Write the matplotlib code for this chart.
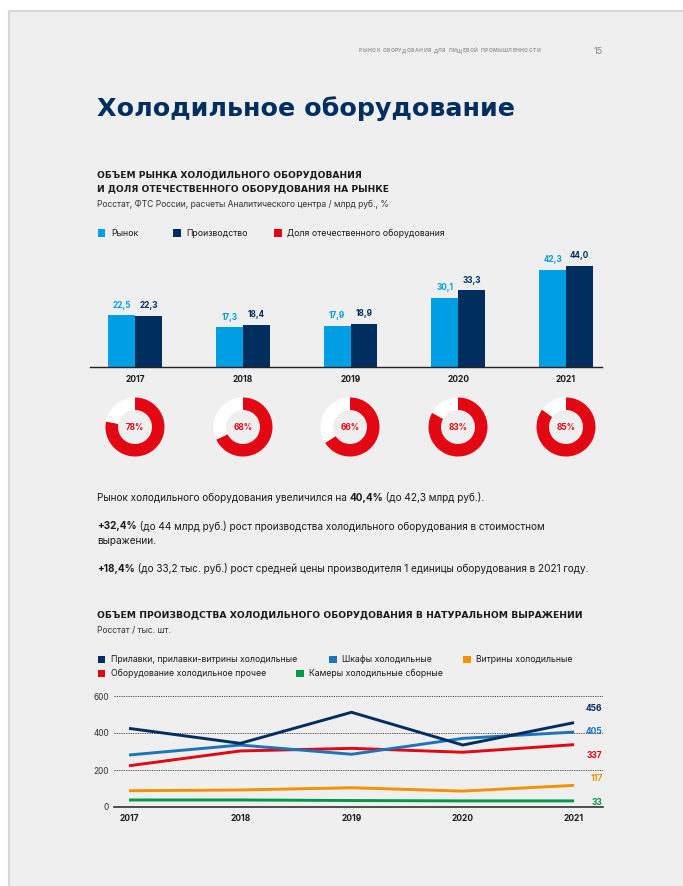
import matplotlib
matplotlib.use("Agg")
import matplotlib.pyplot as plt
from matplotlib.patches import Rectangle
from matplotlib.lines import Line2D
import numpy as np

# ---------------- data ----------------
years = ["2017", "2018", "2019", "2020", "2021"]
market = [22.5, 17.3, 17.9, 30.1, 42.3]
production = [22.3, 18.4, 18.9, 33.3, 44.0]
domestic_share = [78, 68, 66, 83, 85]

line_labels = ["Прилавки, прилавки-витрины холодильные", "Шкафы холодильные",
               "Витрины холодильные", "Оборудование холодильное прочее",
               "Камеры холодильные сборные"]
counters = [425, 344, 512, 335, 456]
cabinets = [281, 335, 285, 371, 405]
showcases = [88, 92, 104, 86, 117]
other_eq = [223, 303, 317, 296, 337]
chambers = [38, 38, 35, 33, 33]
y_ticks = [0, 200, 400, 600]

# ---------------- style ----------------
W, H = 683, 886
DPI = 100
NAVY = "#002f5f"
LBLUE = "#009fe3"
RED = "#e30613"
BLUE = "#1b75bb"
ORANGE = "#f39200"
GREEN = "#009a44"
TXT = "#1a1a1a"
BODY = ["Inter", "DejaVu Sans"]
HEAD = ["DejaVu Sans"]

fig = plt.figure(figsize=(W / DPI, H / DPI), dpi=DPI, facecolor="white")


def fx(x):
    return x / W


def fy(y):
    return 1 - y / H


fig.patches.append(Rectangle((fx(8.5), 0), 1, fy(10.5), transform=fig.transFigure,
                             facecolor="#efefef", edgecolor="none", zorder=-10))
fig.lines.append(Line2D([fx(8.5), fx(8.5)], [0, fy(10.5)], transform=fig.transFigure,
                        color="#d8d8d8", lw=1.5))
fig.lines.append(Line2D([fx(8.5), 1], [fy(10.5), fy(10.5)], transform=fig.transFigure,
                        color="#d8d8d8", lw=1.5))


def axes_px(l, t, r, b):
    return fig.add_axes([fx(l), fy(b), (r - l) / W, (b - t) / H])


def text_px(x, y, s, **kw):
    kw.setdefault("va", "center")
    kw.setdefault("family", BODY)
    return fig.text(fx(x), fy(y), s, **kw)


renderer = fig.canvas.get_renderer()


def runs_px(x, y, runs, size=7.2, color=TXT, family=None):
    fam = family or BODY
    for s, w in runs:
        t = fig.text(fx(x), fy(y), s, fontsize=size, fontweight=w, color=color,
                     family=fam, va="center", ha="left")
        bb = t.get_window_extent(renderer)
        x += bb.width


# ---------------- header ----------------
header = "РЫНОК ОБОРУДОВАНИЯ ДЛЯ ПИЩЕВОЙ ПРОМЫШЛЕННОСТИ"
objs = []
for ch in header:
    objs.append(text_px(0, 52.5, ch, fontsize=3.6, color="#9a9a9a", fontweight="bold",
                        va="baseline"))
widths = [o.get_window_extent(renderer).width if o.get_text() != " " else 2.0 for o in objs]
gap = (181 - sum(widths)) / (len(objs) - 1)
hx = 359
for o, w in zip(objs, widths):
    o.set_x(fx(hx))
    hx += w + gap
text_px(603, 51, "15", fontsize=6.5, color="#8a8a8a", ha="right")

text_px(97, 109, "Холодильное оборудование", fontsize=18.3, fontweight="bold",
        color=NAVY, family=HEAD)

# ---------------- chart 1 titles ----------------
text_px(97, 175, "ОБЪЕМ РЫНКА ХОЛОДИЛЬНОГО ОБОРУДОВАНИЯ", fontsize=6.6,
        fontweight="bold", color=TXT, family=HEAD)
text_px(97, 189, "И ДОЛЯ ОТЕЧЕСТВЕННОГО ОБОРУДОВАНИЯ НА РЫНКЕ", fontsize=6.6,
        fontweight="bold", color=TXT, family=HEAD)
text_px(97, 204, "Росстат, ФТС России, расчеты Аналитического центра / млрд руб., %",
        fontsize=6.15, color="#333333")

leg1 = [(98, "Рынок", LBLUE), (173, "Производство", NAVY),
        (274, "Доля отечественного оборудования", RED)]
for x, s, c in leg1:
    fig.patches.append(Rectangle((fx(x), fy(237)), 7.5 / W, 7.5 / H,
                                 transform=fig.transFigure, facecolor=c, lw=0))
    text_px(x + 13, 233, s, fontsize=6.3, color=TXT)

# ---------------- bar chart ----------------
ax = axes_px(90, 250, 602, 367)
ax.set_facecolor("none")
xs = np.arange(len(years))
bw = 0.25
ax.bar(xs - bw / 2, market, bw, color=LBLUE, lw=0)
ax.bar(xs + bw / 2, production, bw, color=NAVY, lw=0)
for i in range(len(years)):
    ax.annotate(f"{market[i]:.1f}".replace(".", ","), (xs[i] - bw / 2, market[i]),
                xytext=(0, 4), textcoords="offset points", ha="center", va="bottom",
                fontsize=5.9, fontweight="bold", color=LBLUE, family=BODY)
    ax.annotate(f"{production[i]:.1f}".replace(".", ","), (xs[i] + bw / 2, production[i]),
                xytext=(0, 4), textcoords="offset points", ha="center", va="bottom",
                fontsize=5.9, fontweight="bold", color=NAVY, family=BODY)
ax.set_xlim(-0.4176, 4.334)
ax.set_ylim(0, 117 / 2.3)
for s in ["top", "right", "left"]:
    ax.spines[s].set_visible(False)
ax.spines["bottom"].set_color("#222222")
ax.spines["bottom"].set_linewidth(1.0)
ax.set_yticks([])
ax.set_xticks(xs)
ax.set_xticklabels(years, fontsize=6.1, fontweight="bold", family=BODY, color=TXT)
ax.tick_params(axis="x", length=0, pad=5.5)

# ---------------- donuts ----------------
centers = [135, 243, 350, 458, 566]
R = 29.5
for cx, p in zip(centers, domestic_share):
    dax = axes_px(cx - R, 427 - R, cx + R, 427 + R)
    dax.pie([p, 100 - p], colors=[RED, "white"], startangle=90, counterclock=False,
            wedgeprops=dict(width=12.5 / R, linewidth=0), radius=1.0)
    dax.set_xlim(-1, 1)
    dax.set_ylim(-1, 1)
    dax.set_aspect("equal")
    dax.axis("off")
    dax.text(0, 0, f"{p}%", ha="center", va="center", fontsize=5.9,
             fontweight="bold", color=RED, family=BODY)

# ---------------- paragraphs ----------------
runs_px(97, 498, [("Рынок холодильного оборудования увеличился на ", "normal"),
                  ("40,4%", "bold"), (" (до 42,3 млрд руб.).", "normal")])
runs_px(97, 526, [("+32,4%", "bold"),
                  (" (до 44 млрд руб.) рост производства холодильного оборудования в стоимостном", "normal")])
runs_px(97, 541, [("выражении.", "normal")])
runs_px(97, 569, [("+18,4%", "bold"),
                  (" (до 33,2 тыс. руб.) рост средней цены производителя 1 единицы оборудования в 2021 году.", "normal")])

# ---------------- chart 2 titles ----------------
text_px(97, 615, "ОБЪЕМ ПРОИЗВОДСТВА ХОЛОДИЛЬНОГО ОБОРУДОВАНИЯ В НАТУРАЛЬНОМ ВЫРАЖЕНИИ",
        fontsize=6.65, fontweight="bold", color=TXT, family=HEAD)
text_px(97, 630, "Росстат / тыс. шт.", fontsize=6.15, color="#333333")

colors2 = [NAVY, BLUE, ORANGE, RED, GREEN]
leg2_pos = [(98, 659), (329, 659), (463, 659), (98, 673), (296, 673)]
for (x, y), s, c in zip(leg2_pos, line_labels, colors2):
    fig.patches.append(Rectangle((fx(x), fy(y + 4)), 7.5 / W, 7.5 / H,
                                 transform=fig.transFigure, facecolor=c, lw=0))
    text_px(x + 13, y, s, fontsize=6.25, color=TXT)

# ---------------- line chart ----------------
lax = axes_px(114, 696, 603, 807)
lax.set_facecolor("none")
draw_order = [chambers, showcases, other_eq, cabinets, counters]
draw_cols = [GREEN, ORANGE, RED, BLUE, NAVY]
for ys, c in zip(draw_order, draw_cols):
    lax.plot(xs, ys, color=c, lw=2.1, solid_capstyle="butt", solid_joinstyle="miter")
lax.set_xlim(-0.135, 4.26)
lax.set_ylim(0, 600)
lax.set_yticks(y_ticks)
lax.set_yticklabels([str(v) for v in y_ticks], fontsize=5.9, color="#333333", family=BODY)
lax.tick_params(axis="y", length=0, pad=3.5)
lax.set_xticks(xs)
lax.set_xticklabels(years, fontsize=6.1, fontweight="bold", family=BODY, color=TXT)
lax.tick_params(axis="x", length=0, pad=5)
for v in y_ticks[1:]:
    lax.axhline(v, color="#444444", lw=0.7, ls=(0, (1.2, 1.2)), zorder=0)
for s in ["top", "right", "left"]:
    lax.spines[s].set_visible(False)
lax.spines["bottom"].set_color("#222222")
lax.spines["bottom"].set_linewidth(1.1)

end_offsets = [(counters, NAVY, 10.5), (cabinets, BLUE, 0.5), (other_eq, RED, -7.5),
               (showcases, ORANGE, 4.6), (chambers, GREEN, -0.8)]
for ys, c, dy in end_offsets:
    lax.annotate(str(ys[-1]), (4, ys[-1]), xytext=(20.5, dy), textcoords="offset points",
                 ha="right", va="center", fontsize=6.1, fontweight="bold", color=c,
                 family=BODY, annotation_clip=False)

fig.savefig("out.png", dpi=DPI, facecolor=fig.get_facecolor())
